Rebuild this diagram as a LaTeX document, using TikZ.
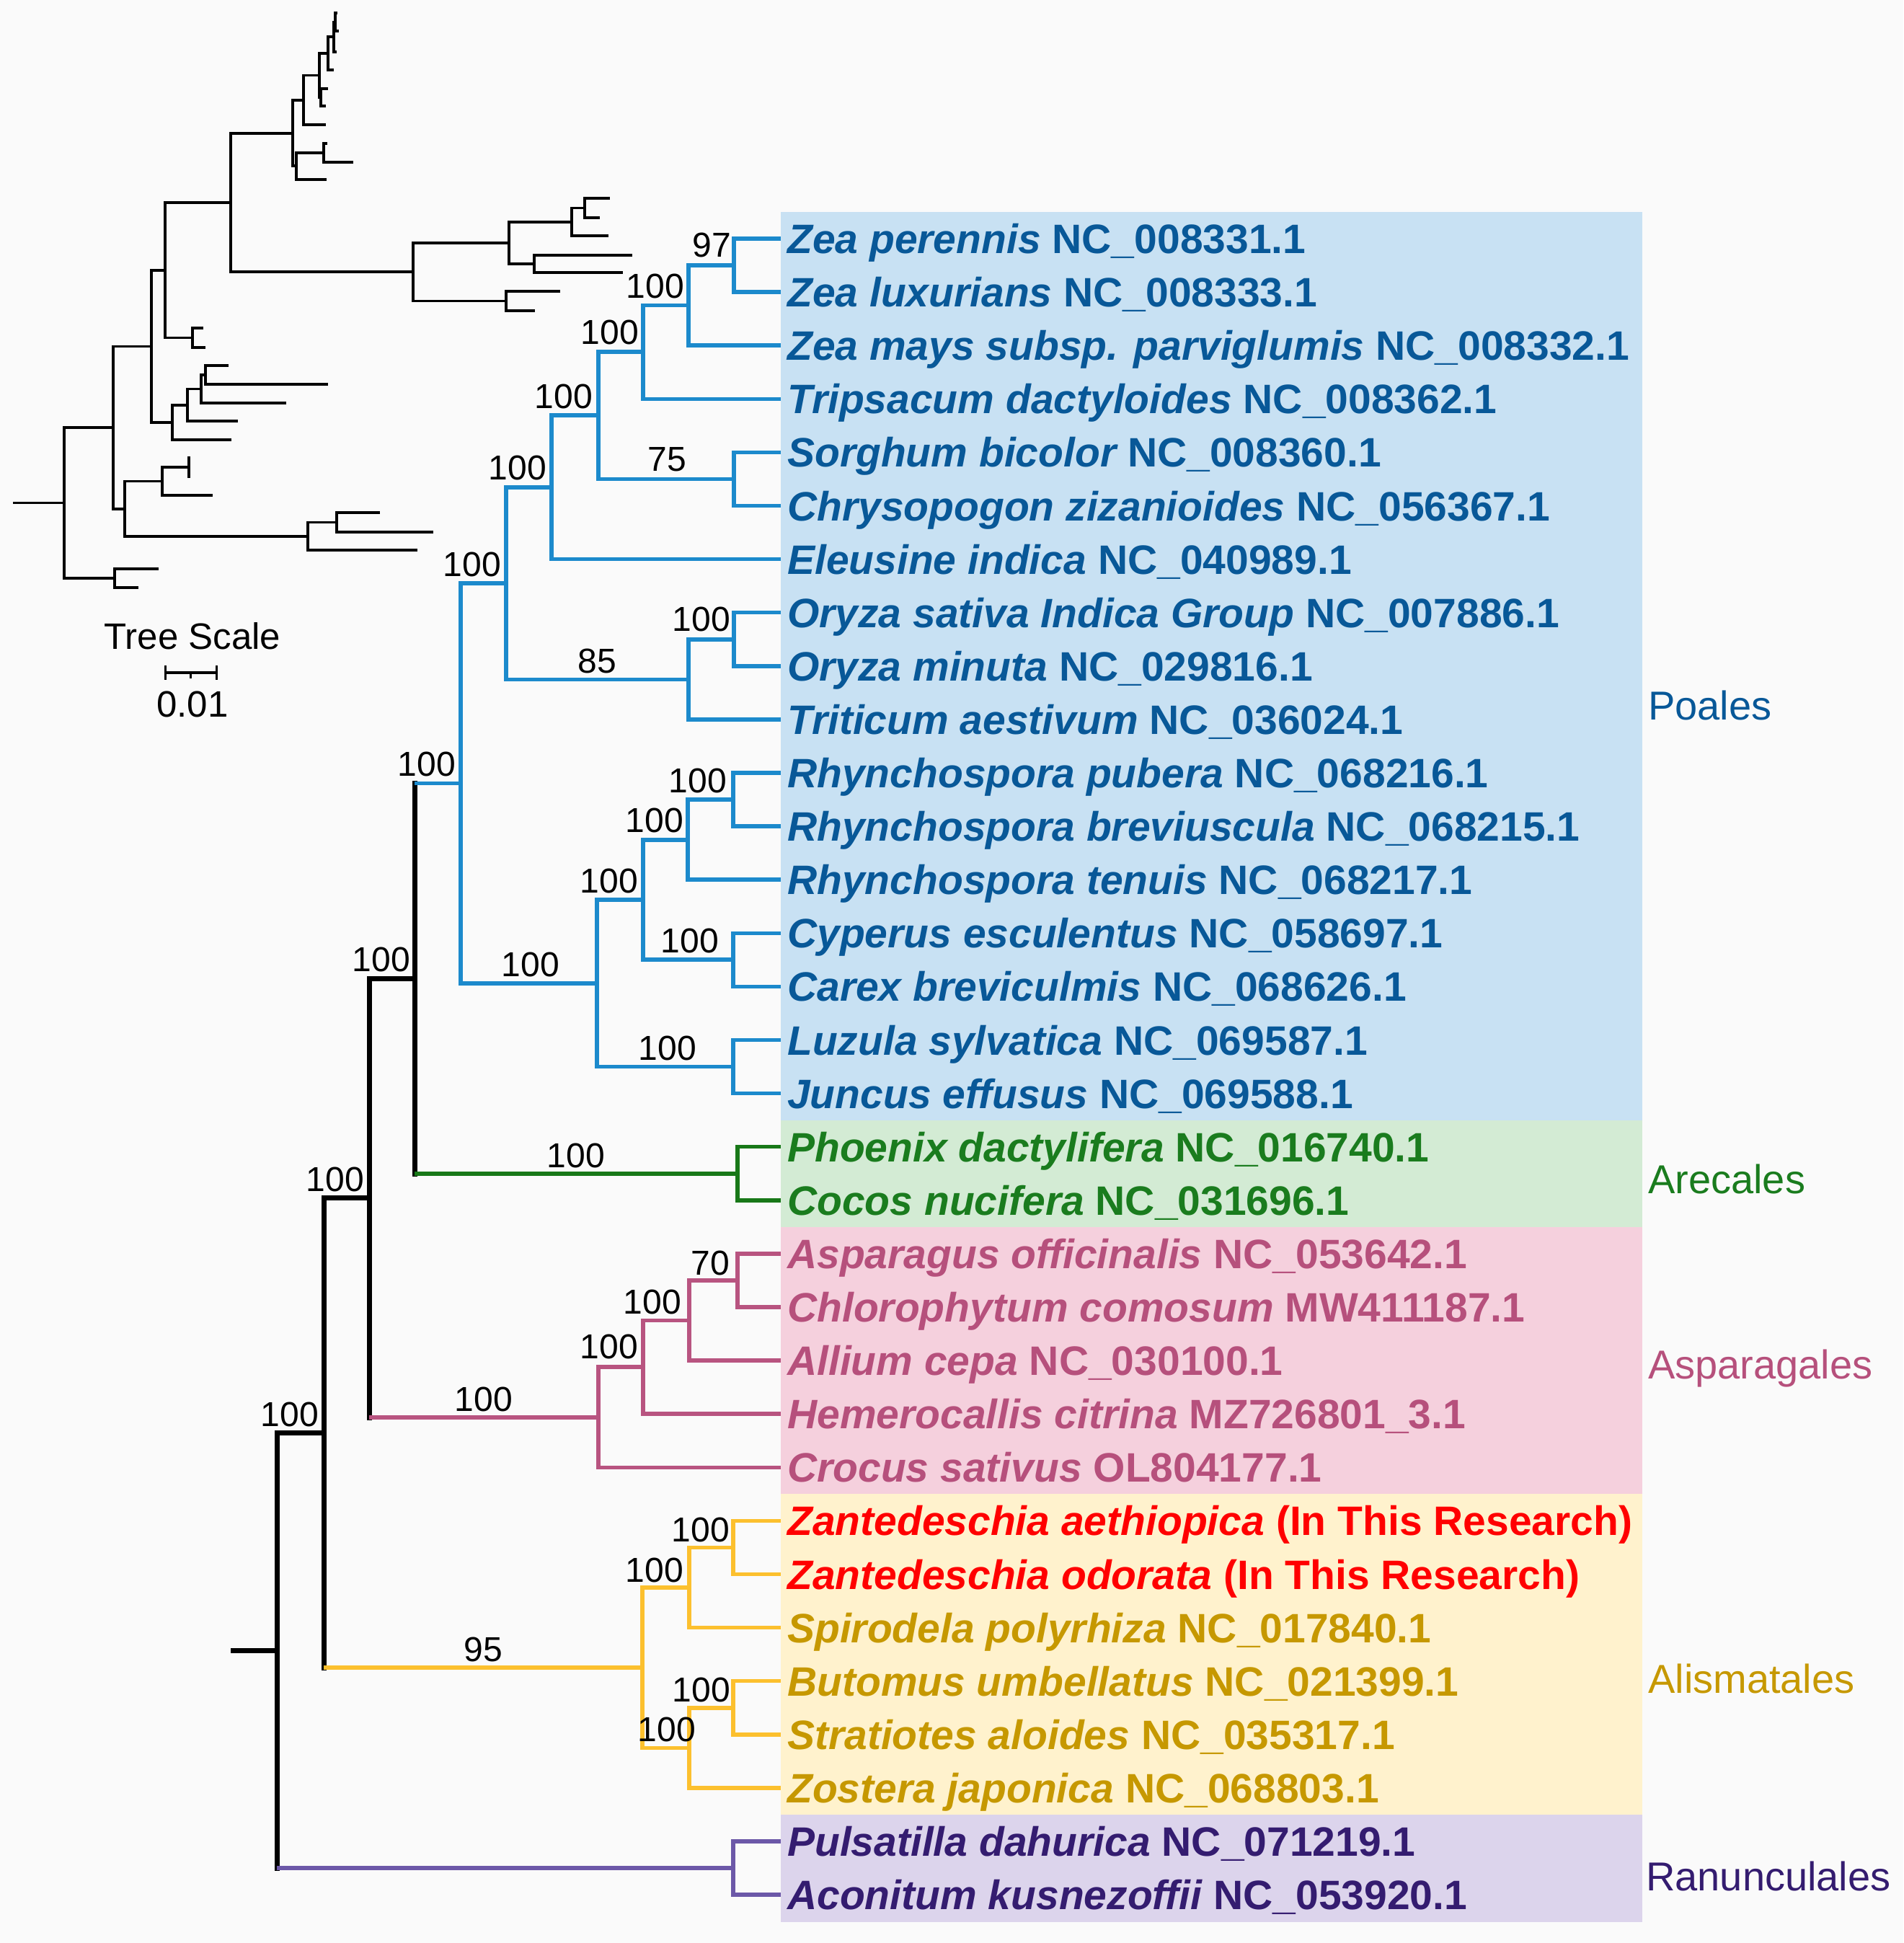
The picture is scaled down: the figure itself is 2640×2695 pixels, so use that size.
\documentclass[tikz,border=0pt]{standalone}
\usepackage{fontspec}
\setmainfont{Liberation Sans}
\definecolor{pgBg}{RGB}{250,250,250}
\definecolor{poBg}{RGB}{200,225,243}
\definecolor{poLn}{RGB}{28,138,204}
\definecolor{poTx}{RGB}{8,88,152}
\definecolor{arBg}{RGB}{211,235,212}
\definecolor{arLn}{RGB}{24,120,24}
\definecolor{arTx}{RGB}{26,124,30}
\definecolor{asBg}{RGB}{245,208,221}
\definecolor{asLn}{RGB}{184,84,128}
\definecolor{asTx}{RGB}{182,80,124}
\definecolor{alBg}{RGB}{255,242,205}
\definecolor{alLn}{RGB}{252,192,46}
\definecolor{alTx}{RGB}{198,152,0}
\definecolor{raBg}{RGB}{220,212,236}
\definecolor{raLn}{RGB}{108,88,168}
\definecolor{raTx}{RGB}{52,28,112}
\definecolor{znTx}{RGB}{255,0,0}
\tikzset{
  ulb/.style={line width=3.5pt, black, line join=miter},
  bk/.style={line width=7pt, black},
  po/.style={line width=5.5pt, poLn},
  ar/.style={line width=5.5pt, arLn},
  as/.style={line width=5.5pt, asLn},
  al/.style={line width=5.5pt, alLn},
  ra/.style={line width=5.5pt, raLn},
  leaf/.style={anchor=base west, inner sep=0pt, font=\fontsize{57}{60}\selectfont\bfseries},
  bs/.style={inner sep=0pt, font=\fontsize{48}{50}\selectfont},
  order/.style={anchor=base west, inner sep=0pt, font=\fontsize{56}{60}\selectfont},
}
% #1 vertical style, #2 node, #3 top child, #4 its style, #5 bottom child, #6 its style
\newcommand\cl[6]{%
  \draw[#1,line cap=rect] (#2 |- #3) -- (#2 |- #5);
  \draw[#4] (#2 |- #3) -- (#3);
  \draw[#6] (#2 |- #5) -- (#5);}
\begin{document}
\begin{tikzpicture}[x=1pt,y=-1pt]
\useasboundingbox (0,0) rectangle (2640,2695);
\fill[pgBg] (0,0) rectangle (2640,2695);
% clade backgrounds
\fill[poBg] (1083,294) rectangle (2278,1554);
\fill[arBg] (1083,1554) rectangle (2278,1702);
\fill[asBg] (1083,1702) rectangle (2278,2072);
\fill[alBg] (1083,2072) rectangle (2278,2517);
\fill[raBg] (1083,2517) rectangle (2278,2666);
% ---------- small overview tree (upper left) ----------
\draw[ulb] (18,697.5) -- (89,697.5);
\draw[ulb] (157,593) -| (89,802) -- (159,802);
\draw[ulb] (220,789) -| (159,815) -- (192,815);
\draw[ulb] (210,480.5) -| (157,706) -- (173,706);
\draw[ulb] (225,667.5) -| (173,744) -- (427,744);
\draw[ulb] (262,648) -| (225,687) -- (295,687);
\draw[ulb] (262,633) -- (262,663);
\draw[ulb] (467,724.5) -| (427,763) -- (579,763);
\draw[ulb] (527,711) -| (467,738) -- (601,738);
\draw[ulb] (229,375) -| (210,586) -- (239,586);
\draw[ulb] (260,562) -| (239,610) -- (321,610);
\draw[ulb] (279,539.5) -| (260,584) -- (330,584);
\draw[ulb] (285,520) -| (279,559) -- (397,559);
\draw[ulb] (317,507) -| (285,533) -- (455,533);
\draw[ulb] (320,281) -| (229,468.5) -- (267,468.5);
\draw[ulb] (282,455) -| (267,482) -- (285,482);
\draw[ulb] (406,185) -| (320,377) -- (573,377);
\draw[ulb] (706,337) -| (573,417.5) -- (702,417.5);
\draw[ulb] (777,404) -| (702,431) -- (742,431);
\draw[ulb] (793,308) -| (706,366) -- (741,366);
\draw[ulb] (877,354) -| (741,378) -- (864,378);
\draw[ulb] (811,288.5) -| (793,327) -- (844,327);
\draw[ulb] (846,275) -| (811,302) -- (832,302);
\draw[ulb] (421,139) -| (406,230) -- (411,230);
\draw[ulb] (449,212) -| (411,249) -- (453,249);
\draw[ulb] (454,199) -| (449,225) -- (490,225);
\draw[ulb] (443,104.5) -| (421,173) -- (452,173);
\draw[ulb] (455,74) -| (443,135) -- (445,135);
\draw[ulb] (455,123) -| (445,147) -- (452,147);
\draw[ulb] (463,51) -| (455,97) -- (463,97);
\draw[ulb] (465,30.5) -| (463,72) -- (467,72);
\draw[ulb] (468,18) -| (465,43) -- (470,43);
% tree scale
\node[inner sep=0pt, font=\fontsize{51}{53}\selectfont] (tsl) at (267,882) {Tree Scale};
\coordinate (sbL) at (229,933);
\coordinate (sbR) at (300,933);
\draw[line width=3.5pt] (sbL) -- (sbR);
\draw[line width=3pt] ([yshift=10pt]sbL) -- ([yshift=-10pt]sbL);
\draw[line width=3pt] ([yshift=10pt]sbR) -- ([yshift=-10pt]sbR);
\draw[line width=2.5pt] (264.5,933) -- (264.5,941);
\node[inner sep=0pt, font=\fontsize{51}{53}\selectfont] (tsv) at (267,977) {0.01};
% ---------- main tree ----------
\foreach \k in {0,...,31} { \coordinate (t\k) at (1083,331+74.1*\k); }
\coordinate (nP) at (1018,368);
\coordinate (nO) at (955,423.5);
\coordinate (nN) at (892,488);
\coordinate (nQ) at (1018,664.5);
\coordinate (nM) at (830,576);
\coordinate (nL) at (765,676);
\coordinate (nS) at (1018,887);
\coordinate (nR) at (955,942.5);
\coordinate (nK) at (702,809);
\coordinate (nH) at (1017,1109);
\coordinate (nG) at (954,1165);
\coordinate (nI) at (1017,1331);
\coordinate (nF) at (892,1248);
\coordinate (nJ) at (1017,1479.5);
\coordinate (nE) at (828,1364);
\coordinate (nD) at (639,1086.5);
\coordinate (nAr) at (1023,1628);
\coordinate (nC) at (575,1357);
\coordinate (nW) at (1023,1776);
\coordinate (nV) at (956,1831.5);
\coordinate (nU) at (892,1896);
\coordinate (nT) at (830,1966);
\coordinate (nB) at (512,1661.5);
\coordinate (nZa) at (1017,2146.5);
\coordinate (nZ) at (956,2202);
\coordinate (nBu) at (1017,2369);
\coordinate (nAA) at (956,2424.5);
\coordinate (nY) at (891,2313);
\coordinate (nA) at (449,1987);
\coordinate (nRa) at (1017,2591);
\coordinate (nRoot) at (384,2289);
\coordinate (stub) at (320,2289);
% Poales
\cl{po}{nP}{t0}{po}{t1}{po}
\cl{po}{nO}{nP}{po}{t2}{po}
\cl{po}{nN}{nO}{po}{t3}{po}
\cl{po}{nQ}{t4}{po}{t5}{po}
\cl{po}{nM}{nN}{po}{nQ}{po}
\cl{po}{nL}{nM}{po}{t6}{po}
\cl{po}{nS}{t7}{po}{t8}{po}
\cl{po}{nR}{nS}{po}{t9}{po}
\cl{po}{nK}{nL}{po}{nR}{po}
\cl{po}{nH}{t10}{po}{t11}{po}
\cl{po}{nG}{nH}{po}{t12}{po}
\cl{po}{nI}{t13}{po}{t14}{po}
\cl{po}{nF}{nG}{po}{nI}{po}
\cl{po}{nJ}{t15}{po}{t16}{po}
\cl{po}{nE}{nF}{po}{nJ}{po}
\cl{po}{nD}{nK}{po}{nE}{po}
% Arecales
\cl{ar}{nAr}{t17}{ar}{t18}{ar}
\cl{bk}{nC}{nD}{po}{nAr}{ar}
% Asparagales
\cl{as}{nW}{t19}{as}{t20}{as}
\cl{as}{nV}{nW}{as}{t21}{as}
\cl{as}{nU}{nV}{as}{t22}{as}
\cl{as}{nT}{nU}{as}{t23}{as}
\cl{bk}{nB}{nC}{bk}{nT}{as}
% Alismatales
\cl{al}{nZa}{t24}{al}{t25}{al}
\cl{al}{nZ}{nZa}{al}{t26}{al}
\cl{al}{nBu}{t27}{al}{t28}{al}
\cl{al}{nAA}{nBu}{al}{t29}{al}
\cl{al}{nY}{nZ}{al}{nAA}{al}
\cl{bk}{nA}{nB}{bk}{nY}{al}
% Ranunculales and root
\cl{ra}{nRa}{t30}{ra}{t31}{ra}
\cl{bk}{nRoot}{nA}{bk}{nRa}{ra}
\draw[bk] (stub) -- (nRoot);
% ---------- leaf labels ----------
\foreach \k/\sp/\ac/\co in {
 0/Zea perennis/NC\_008331.1/poTx,
 1/Zea luxurians/NC\_008333.1/poTx,
 2/Zea mays subsp. parviglumis/NC\_008332.1/poTx,
 3/Tripsacum dactyloides/NC\_008362.1/poTx,
 4/Sorghum bicolor/NC\_008360.1/poTx,
 5/Chrysopogon zizanioides/NC\_056367.1/poTx,
 6/Eleusine indica/NC\_040989.1/poTx,
 7/Oryza sativa Indica Group/NC\_007886.1/poTx,
 8/Oryza minuta/NC\_029816.1/poTx,
 9/Triticum aestivum/NC\_036024.1/poTx,
 10/Rhynchospora pubera/NC\_068216.1/poTx,
 11/Rhynchospora breviuscula/NC\_068215.1/poTx,
 12/Rhynchospora tenuis/NC\_068217.1/poTx,
 13/Cyperus esculentus/NC\_058697.1/poTx,
 14/Carex breviculmis/NC\_068626.1/poTx,
 15/Luzula sylvatica/NC\_069587.1/poTx,
 16/Juncus effusus/NC\_069588.1/poTx,
 17/Phoenix dactylifera/NC\_016740.1/arTx,
 18/Cocos nucifera/NC\_031696.1/arTx,
 19/Asparagus officinalis/NC\_053642.1/asTx,
 20/Chlorophytum comosum/MW411187.1/asTx,
 21/Allium cepa/NC\_030100.1/asTx,
 22/Hemerocallis citrina/MZ726801\_3.1/asTx,
 23/Crocus sativus/OL804177.1/asTx,
 24/Zantedeschia aethiopica/(In This Research)/znTx,
 25/Zantedeschia odorata/(In This Research)/znTx,
 26/Spirodela polyrhiza/NC\_017840.1/alTx,
 27/Butomus umbellatus/NC\_021399.1/alTx,
 28/Stratiotes aloides/NC\_035317.1/alTx,
 29/Zostera japonica/NC\_068803.1/alTx,
 30/Pulsatilla dahurica/NC\_071219.1/raTx,
 31/Aconitum kusnezoffii/NC\_053920.1/raTx}
{ \node[leaf, text=\co] (lf\k) at ([xshift=9pt,yshift=-20.5pt]t\k) {\itshape\sp{} \upshape\ac}; }
% ---------- bootstrap values ----------
\foreach \x/\y/\t [count=\i] in {
 987/340/97, 909/397/100, 846/461/100, 782/550/100, 925/637/75,
 718/649/100, 655/783/100, 828/917/85, 973/859/100, 592/1060/100,
 968/1083/100, 908/1138/100, 845/1222/100, 957/1305/100, 736/1338/100,
 529/1331/100, 926/1454/100, 799/1603/100, 465/1636/100, 985/1752/70,
 905/1806/100, 845/1868/100, 671/1941/100, 402/1962/100, 972/2122/100,
 908/2178/100, 670/2288/95, 973/2344/100, 925/2399/100}
{ \node[bs] (bs\i) at (\x,\y) {\t}; }
% ---------- order labels ----------
\node[order, text=poTx] (oPo) at (2286,998) {Poales};
\node[order, text=arTx] (oAr) at (2286,1655) {Arecales};
\node[order, text=asTx] (oAs) at (2286,1912) {Asparagales};
\node[order, text=alTx] (oAl) at (2286,2348) {Alismatales};
\node[order, text=raTx] (oRa) at (2283,2622) {Ranunculales};
\end{tikzpicture}
\end{document}
